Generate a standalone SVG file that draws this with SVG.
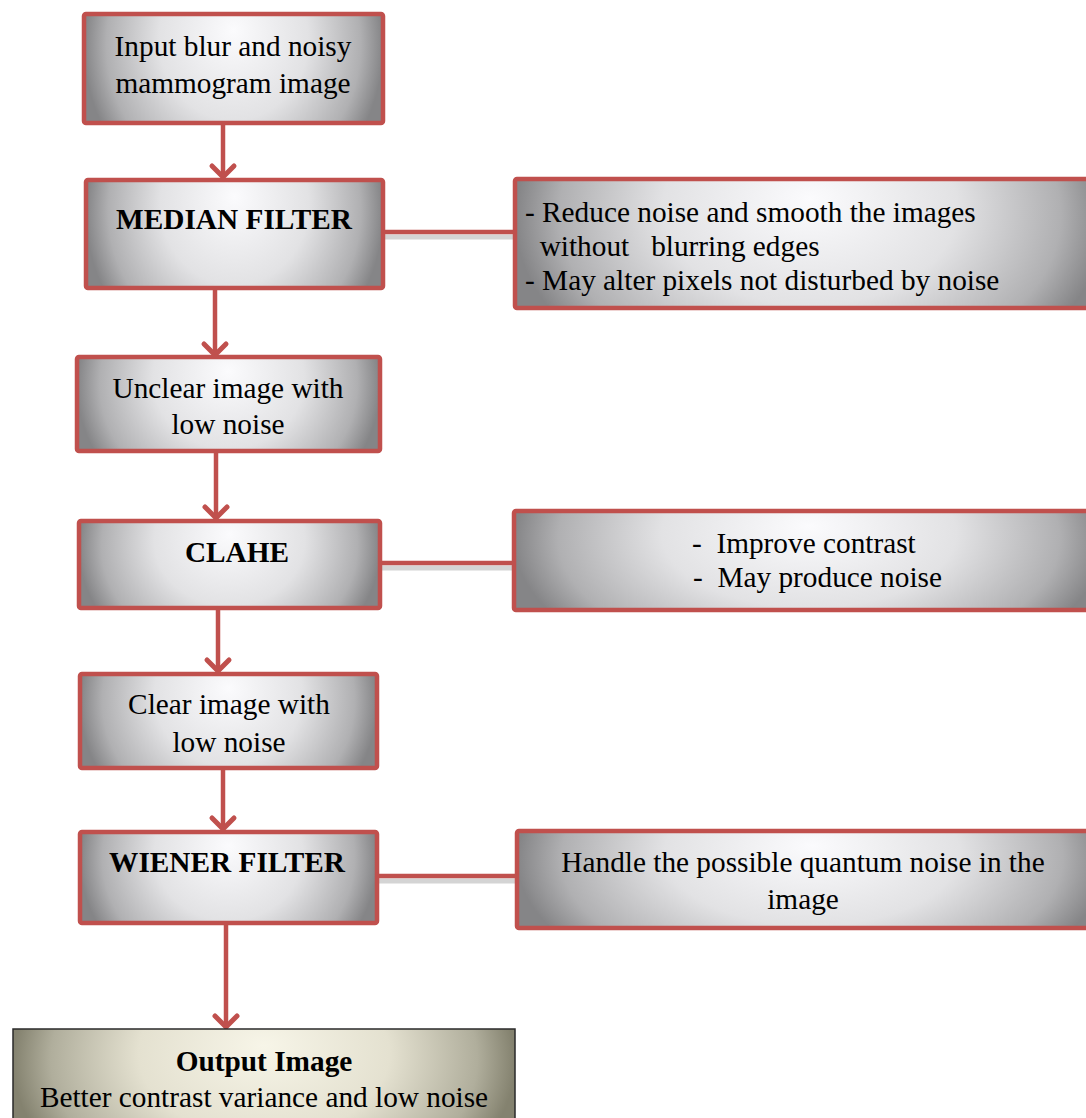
<svg xmlns="http://www.w3.org/2000/svg" width="1086" height="1118" viewBox="0 0 1086 1118">
<defs>
<radialGradient id="gray" cx="0.5" cy="0.3" r="0.5" fx="0.5" fy="0.25" gradientTransform="translate(0.5 0.3) scale(1 3) translate(-0.5 -0.3)">
<stop offset="0" stop-color="#fbfbfd"/>
<stop offset="0.5" stop-color="#e2e2e4"/>
<stop offset="0.85" stop-color="#b0b0b2"/>
<stop offset="1" stop-color="#858587"/>
</radialGradient>
<radialGradient id="beige" cx="0.5" cy="0.3" r="0.5" fx="0.5" fy="0.25" gradientTransform="translate(0.5 0.3) scale(1 3) translate(-0.5 -0.3)">
<stop offset="0" stop-color="#f7f5e8"/>
<stop offset="0.5" stop-color="#e4e1d0"/>
<stop offset="0.85" stop-color="#b0ae9c"/>
<stop offset="1" stop-color="#84826f"/>
</radialGradient>
<marker id="chev" markerUnits="userSpaceOnUse" markerWidth="30" markerHeight="30" viewBox="-15 -15 30 30" refX="0" refY="0" orient="auto" overflow="visible">
<polyline points="-12,-11 -1,0 -12,11" fill="none" stroke="#c0504d" stroke-width="5" stroke-linecap="round" stroke-linejoin="round"/>
</marker>
</defs>
<style>
.box{fill:url(#gray);stroke:#c0504d;stroke-width:4.5;}
.out{fill:url(#beige);stroke:#2a2a2a;stroke-width:1.5;}
.t{font-family:"Liberation Serif","Times New Roman",serif;font-size:29.3px;fill:#000;}
.b{font-weight:bold;}
.m{text-anchor:middle;}
.arr{stroke:#c0504d;stroke-width:4.5;fill:none;marker-end:url(#chev);}
.ln{stroke:#c0504d;stroke-width:4.5;fill:none;}
.sh{stroke:#d4d4d4;stroke-width:5;fill:none;}
</style>
<g id="connectors">
<line class="arr" x1="223" y1="123" x2="223" y2="178"/>
<line class="arr" x1="215" y1="288" x2="215" y2="356"/>
<line class="arr" x1="216" y1="452" x2="216" y2="519"/>
<line class="arr" x1="218" y1="608" x2="218" y2="672"/>
<line class="arr" x1="223" y1="768" x2="223" y2="830"/>
<line class="arr" x1="226" y1="923" x2="226" y2="1028"/>
<line class="sh" x1="385" y1="237" x2="515" y2="237"/>
<line class="ln" x1="383" y1="232" x2="515" y2="232"/>
<line class="sh" x1="382" y1="568" x2="514" y2="568"/>
<line class="ln" x1="380" y1="563" x2="514" y2="563"/>
<line class="sh" x1="379" y1="881" x2="517" y2="881"/>
<line class="ln" x1="377" y1="876" x2="517" y2="876"/>
</g>
<g id="input">
<rect class="box" x="84" y="14" width="299" height="109" rx="2"/>
<text class="t m" x="233" y="56">Input blur and noisy</text>
<text class="t m" x="233" y="93">mammogram image</text>
</g>
<g id="median">
<rect class="box" x="86" y="180" width="297" height="108" rx="2"/>
<text class="t b m" x="234" y="229">MEDIAN FILTER</text>
</g>
<g id="median-note">
<rect class="box" x="515" y="179" width="590" height="129" rx="2"/>
<text class="t" x="525" y="222">- Reduce noise and smooth the images</text>
<text class="t" x="525" y="256" xml:space="preserve">  without   blurring edges</text>
<text class="t" x="525" y="290">- May alter pixels not disturbed by noise</text>
</g>
<g id="unclear">
<rect class="box" x="77" y="357" width="303" height="94" rx="2"/>
<text class="t m" x="228" y="398">Unclear image with</text>
<text class="t m" x="228" y="434">low noise</text>
</g>
<g id="clahe">
<rect class="box" x="79" y="521" width="301" height="87" rx="2"/>
<text class="t b m" x="237" y="562">CLAHE</text>
</g>
<g id="clahe-note">
<rect class="box" x="514" y="511" width="590" height="99" rx="2"/>
<text class="t" x="692" y="553" xml:space="preserve">-  Improve contrast</text>
<text class="t" x="693" y="587" xml:space="preserve">-  May produce noise</text>
</g>
<g id="clear">
<rect class="box" x="80" y="674" width="297" height="94" rx="2"/>
<text class="t m" x="229" y="714">Clear image with</text>
<text class="t m" x="229" y="752">low noise</text>
</g>
<g id="wiener">
<rect class="box" x="80" y="832" width="297" height="91" rx="2"/>
<text class="t b m" x="227" y="872">WIENER FILTER</text>
</g>
<g id="wiener-note">
<rect class="box" x="517" y="831" width="590" height="97" rx="2"/>
<text class="t m" x="803" y="872">Handle the possible quantum noise in the</text>
<text class="t m" x="803" y="909">image</text>
</g>
<g id="output">
<rect class="out" x="13" y="1029" width="502" height="110"/>
<text class="t b m" x="264" y="1071">Output Image</text>
<text class="t m" x="264" y="1107">Better contrast variance and low noise</text>
</g>
</svg>
